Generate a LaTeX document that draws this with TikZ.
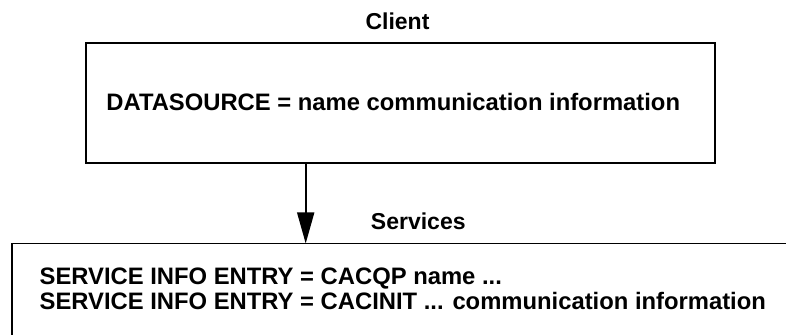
\documentclass[tikz,border=0pt]{standalone}
\usepackage{fontspec}
\setmainfont{Liberation Sans}
\usetikzlibrary{arrows.meta}
\begin{document}
\begin{tikzpicture}[x=0.5pt, y=-0.5pt,
  frame/.style={draw, line width=0.85pt, inner sep=0pt, outer sep=0pt},
  title/.style={font=\fontsize{11.5}{14}\selectfont\bfseries, inner sep=0pt, anchor=base},
  entry/.style={font=\fontsize{11.9}{14.3}\selectfont\bfseries, inner sep=0pt, anchor=base west},
  flow/.style={line width=0.85pt, -{Triangle[length=15.5pt, width=8.5pt]}}]
  \useasboundingbox (0,0) rectangle (786,335);
  \clip (0,0) rectangle (786,335);

  % client side
  \node[frame, minimum width=314.5pt, minimum height=60pt] (client) at (400.5,103) {};
  \node[title] (clientlabel) at (397.5,30) {Client};
  \node[entry] (ds) at (106,110.5) {DATASOURCE = name communication information};

  % services side (runs past the right and bottom edges)
  \node[frame, minimum width=420pt, minimum height=80pt, anchor=north west] (services) at (12,243.5) {};
  \node[title] (serviceslabel) at (418.3,229.3) {Services};
  \node[entry] (e1) at (39.3,285) {SERVICE INFO ENTRY = CACQP name ...};
  \node[entry] (e2) at (39.3,310) {SERVICE INFO ENTRY = CACINIT ... communication information};

  % connection from client to services
  \coordinate (ax) at (305.7,0);
  \draw[flow] (client.south -| ax) -- (services.north -| ax);
\end{tikzpicture}
\end{document}
